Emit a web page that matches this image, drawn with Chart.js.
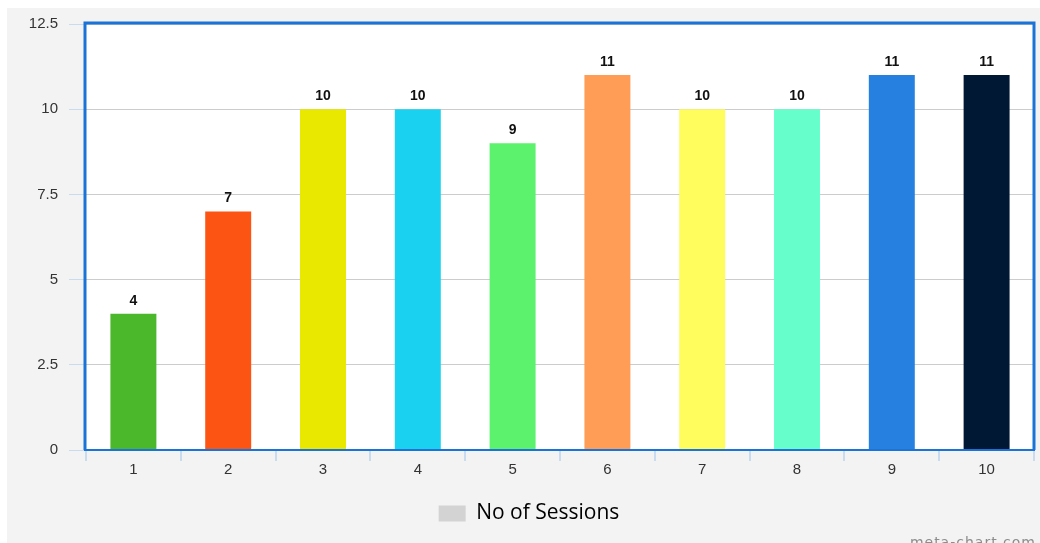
<!DOCTYPE html>
<html>
<head>
<meta charset="utf-8">
<script src="https://cdn.jsdelivr.net/npm/chart.js@4/dist/chart.umd.min.js"></script>
<style>
html,body{margin:0;padding:0;background:#fff;}
#c{display:block;}
</style>
</head>
<body>
<canvas id="c" width="1040" height="543"></canvas>
<script>
const categories = ['1','2','3','4','5','6','7','8','9','10'];
const sessions = [4, 7, 10, 10, 9, 11, 10, 10, 11, 11];
const barColors = ['#4bb82c','#fc5412','#e8e800','#1ad2f0','#5cf26e','#ff9c55','#fffc5e','#66ffcc','#2580e0','#001833'];
const yTicks = ['0','2.5','5','7.5','10','12.5'];
const seriesName = 'No of Sessions';

const decor = {
  id: 'decor',
  beforeDraw(chart) {
    const {ctx, chartArea: a} = chart;
    ctx.save();
    ctx.fillStyle = '#ffffff';
    ctx.fillRect(0, 0, chart.width, chart.height);
    ctx.fillStyle = '#f3f3f3';
    ctx.fillRect(7, 8, chart.width - 7, chart.height - 8);
    ctx.fillStyle = '#ffffff';
    ctx.fillRect(a.left, a.top, a.right - a.left, a.bottom - a.top);
    ctx.restore();
  },
  afterDatasetsDraw(chart) {
    const {ctx, chartArea: a} = chart;
    ctx.save();
    // value labels
    const meta = chart.getDatasetMeta(0);
    ctx.font = 'bold 14px "Liberation Sans", Arial, sans-serif';
    ctx.fillStyle = '#111';
    ctx.textAlign = 'center';
    ctx.textBaseline = 'alphabetic';
    meta.data.forEach((bar, i) => {
      ctx.fillText(String(chart.data.datasets[0].data[i]), bar.x, bar.y - 9);
    });
    // blue frame
    ctx.strokeStyle = '#1a73d6';
    ctx.lineWidth = 3;
    ctx.beginPath();
    ctx.moveTo(a.left - 1, a.bottom);
    ctx.lineTo(a.left - 1, a.top - 1);
    ctx.lineTo(a.right, a.top - 1);
    ctx.lineTo(a.right, a.bottom);
    ctx.stroke();
    ctx.lineWidth = 2;
    ctx.beginPath();
    ctx.moveTo(a.left - 2, a.bottom);
    ctx.lineTo(a.right + 1, a.bottom);
    ctx.stroke();
    // watermark
    ctx.font = '14px "DejaVu Sans", sans-serif';
    ctx.fillStyle = '#8c8c8c';
    ctx.textAlign = 'right';
    try { ctx.letterSpacing = '1px'; } catch(e) {}
    ctx.fillText('meta-chart.com', 1036, 547);
    ctx.restore();
  }
};

new Chart(document.getElementById('c'), {
  type: 'bar',
  data: {
    labels: categories,
    datasets: [{
      label: seriesName,
      data: sessions,
      backgroundColor: barColors,
      borderWidth: 0,
      categoryPercentage: 1.0,
      barPercentage: 0.485
    }]
  },
  options: {
    responsive: false,
    animation: false,
    layout: { padding: { top: 24, right: 6, left: 24, bottom: 9 } },
    plugins: {
      tooltip: { enabled: false },
      legend: {
        position: 'bottom',
        labels: {
          boxWidth: 27,
          boxHeight: 16,
          padding: 20,
          color: '#333',
          font: { family: '"Open Sans", "Noto Sans", sans-serif', size: 21 },
          generateLabels(chart) {
            return [{ text: seriesName, fillStyle: '#d3d3d3', strokeStyle: '#d3d3d3', lineWidth: 0, hidden: false, datasetIndex: 0 }];
          }
        }
      }
    },
    scales: {
      x: {
        offset: true,
        grid: { display: true, drawOnChartArea: false, drawTicks: true, tickLength: 11, tickColor: '#c9dcef', offset: true, lineWidth: 2 },
        border: { display: false },
        ticks: { color: '#333', font: { family: '"Liberation Sans", Arial, sans-serif', size: 15 }, padding: 0 },
        afterFit(s) { s.height = 33; }
      },
      y: {
        min: 0, max: 12.5,
        ticks: {
          stepSize: 2.5,
          color: '#333',
          padding: 11,
          font: { family: '"Liberation Sans", Arial, sans-serif', size: 15 },
          callback(v) { const k = Math.round(v / 2.5); return yTicks[k]; }
        },
        grid: { color: '#cccccc', lineWidth: 1, tickLength: 17, tickColor: '#c9dcef' },
        border: { display: false },
        afterFit(s) { s.width = 62; }
      }
    }
  },
  plugins: [decor]
});
</script>
</body>
</html>
